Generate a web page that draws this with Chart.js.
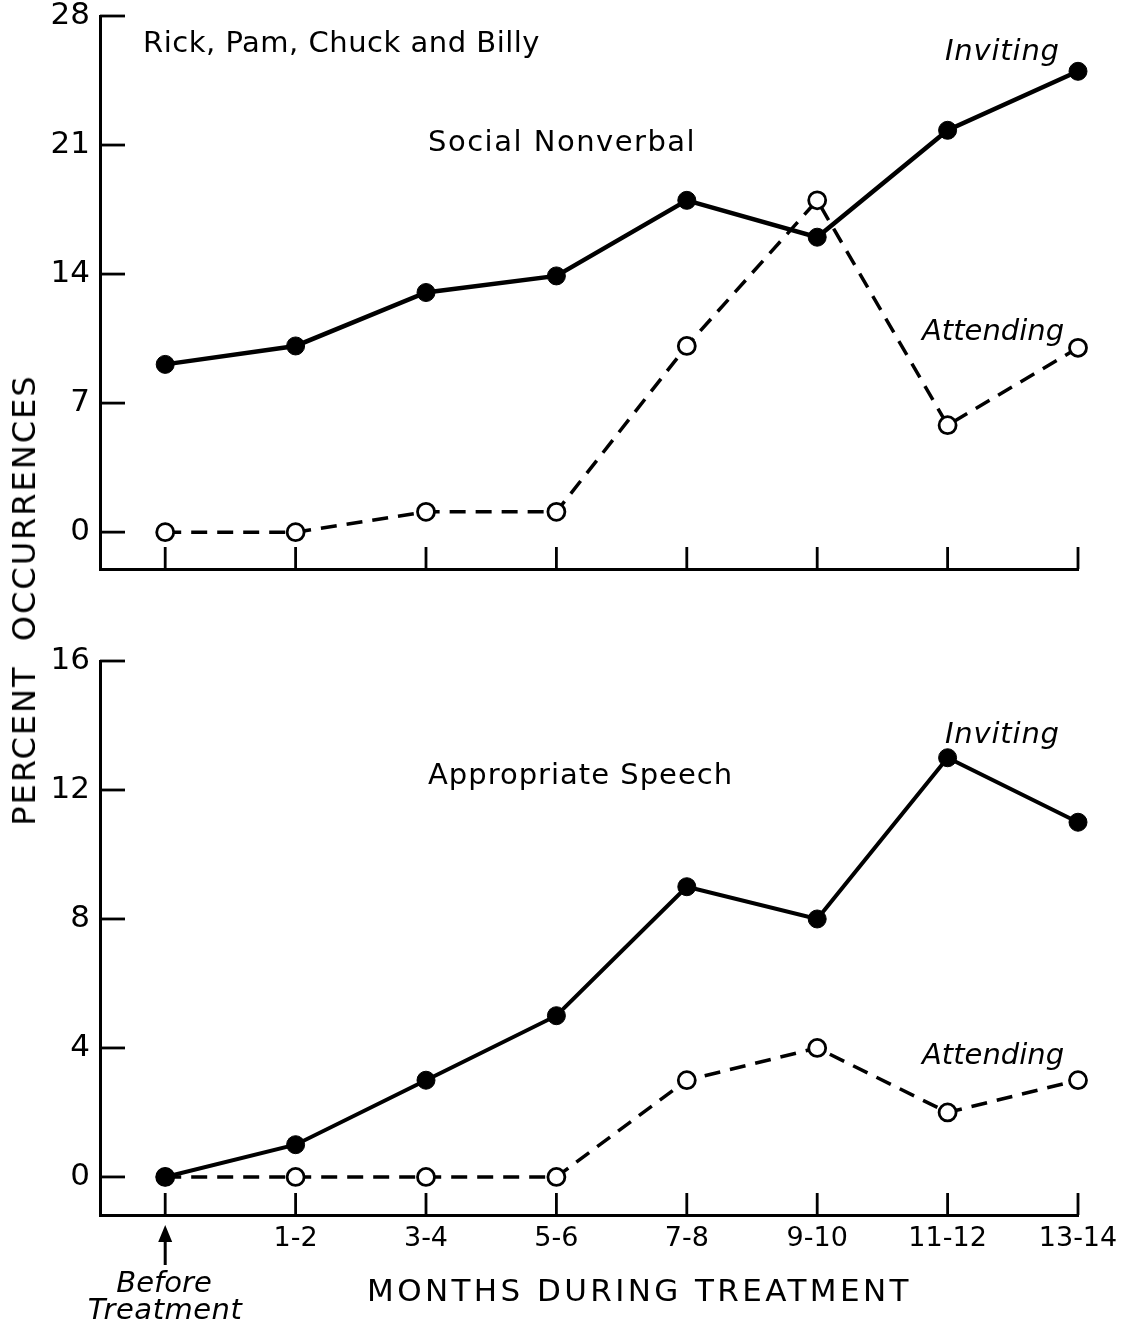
<!DOCTYPE html>
<html>
<head>
<meta charset="utf-8">
<script src="https://cdn.jsdelivr.net/npm/chart.js@4.4.1/dist/chart.umd.min.js"></script>
<style>
  body { margin: 0; background: #fff; }
  #page { position: relative; width: 1136px; height: 1326px; overflow: hidden; font-family: "DejaVu Sans", sans-serif; color: #000; }
  .box { position: absolute; left: 0; width: 1136px; }
  .txt { position: absolute; white-space: nowrap; line-height: 1; }
  .it { font-style: italic; }
</style>
</head>
<body>
<div id="page">
  <div class="box" style="top:0;height:600px"><canvas id="topChart"></canvas></div>
  <div class="box" style="top:600px;height:726px"><canvas id="bottomChart"></canvas></div>

  <div class="txt" style="left:143px;top:28px;font-size:29px;letter-spacing:0.5px">Rick, Pam, Chuck and Billy</div>
  <div class="txt" style="left:428px;top:127px;font-size:29px;letter-spacing:1.5px">Social Nonverbal</div>
  <div class="txt it" style="left:945px;top:36px;font-size:29px;letter-spacing:0.8px">Inviting</div>
  <div class="txt it" style="left:922px;top:316px;font-size:29px;letter-spacing:0px">Attending</div>

  <div class="txt it" style="left:945px;top:719px;font-size:29px;letter-spacing:0.8px">Inviting</div>
  <div class="txt" style="left:428px;top:760px;font-size:29px;letter-spacing:1px">Appropriate Speech</div>
  <div class="txt it" style="left:922px;top:1040px;font-size:29px;letter-spacing:0px">Attending</div>

  <div class="txt it" style="left:164px;top:1268px;font-size:29px;transform:translateX(-50%)">Before</div>
  <div class="txt it" style="left:165px;top:1295px;font-size:29px;transform:translateX(-50%);letter-spacing:0.5px">Treatment</div>
  <div class="txt" style="left:367px;top:1275px;font-size:31px;letter-spacing:3.4px">MONTHS DURING TREATMENT</div>

  <div class="txt" style="left:24px;top:600px;font-size:32px;letter-spacing:2px;transform:translate(-50%,-50%) rotate(-90deg)">PERCENT&nbsp; OCCURRENCES</div>
</div>

<script>
// categories and values
const months = ['Before Treatment', '1-2', '3-4', '5-6', '7-8', '9-10', '11-12', '13-14'];

const nonverbalInviting = [9.1, 10.1, 13.0, 13.9, 18.0, 16.0, 21.8, 25.0];
const nonverbalAttending = [0, 0, 1.1, 1.1, 10.1, 18.0, 5.8, 10.0];

const speechInviting = [0, 1, 3, 5, 9, 8, 13, 11];
const speechAttending = [0, 0, 0, 0, 3, 4, 2, 3];

const nonverbalTicks = [0, 7, 14, 21, 28];
const speechTicks = [0, 4, 8, 12, 16];

const FONT = '"DejaVu Sans", sans-serif';

function points(values) {
    return values.map((v, i) => ({ x: i, y: v }));
}

function invitingSet(values, lw) {
    return {
        label: 'Inviting',
        data: points(values),
        clip: 20,
        borderColor: '#000',
        backgroundColor: '#000',
        borderWidth: lw,
        pointRadius: 9,
        pointBorderWidth: 1,
        pointBackgroundColor: '#000',
        pointBorderColor: '#000',
        tension: 0
    };
}

function attendingSet(values) {
    return {
        label: 'Attending',
        data: points(values),
        clip: 20,
        borderColor: '#000',
        borderWidth: 3.5,
        borderDash: [16, 10],
        pointRadius: 8.5,
        pointBorderWidth: 2.8,
        pointBackgroundColor: '#fff',
        pointBorderColor: '#000',
        tension: 0
    };
}

// ticks drawn inwards from the axes, like the original
const innerTicks = {
    id: 'innerTicks',
    afterDatasetsDraw(chart, args, opts) {
        const { ctx, chartArea, scales } = chart;
        ctx.save();
        ctx.strokeStyle = '#000';
        ctx.lineWidth = 2.8;
        ctx.setLineDash([]);
        scales.y.ticks.forEach(t => {
            const y = scales.y.getPixelForValue(t.value);
            ctx.beginPath();
            ctx.moveTo(chartArea.left, y);
            ctx.lineTo(chartArea.left + 25, y);
            ctx.stroke();
        });
        months.forEach((m, i) => {
            const x = scales.x.getPixelForValue(i);
            ctx.beginPath();
            ctx.moveTo(x, chartArea.bottom);
            ctx.lineTo(x, chartArea.bottom - 22);
            ctx.stroke();
        });
        // arrow pointing at "Before Treatment"
        if (opts.arrow) {
            const x = scales.x.getPixelForValue(0);
            const y0 = chartArea.bottom + 10;
            ctx.lineWidth = 3;
            ctx.beginPath();
            ctx.moveTo(x, y0 + 10);
            ctx.lineTo(x, y0 + 40);
            ctx.stroke();
            ctx.fillStyle = '#000';
            ctx.beginPath();
            ctx.moveTo(x, y0);
            ctx.lineTo(x - 7, y0 + 17);
            ctx.lineTo(x + 7, y0 + 17);
            ctx.closePath();
            ctx.fill();
        }
        ctx.restore();
    }
};

function makeChart(id, sets, yMin, yMax, yTicks, opt) {
    const ctx = document.getElementById(id).getContext('2d');
    return new Chart(ctx, {
        type: 'line',
        data: { datasets: sets },
        options: {
            responsive: true,
            maintainAspectRatio: false,
            animation: false,
            layout: { padding: { top: opt.padTop, right: 58, left: 0, bottom: 0 } },
            plugins: {
                legend: { display: false },
                tooltip: { enabled: false },
                innerTicks: { arrow: opt.arrow }
            },
            scales: {
                x: {
                    type: 'linear',
                    min: -0.5,
                    max: months.length - 1,
                    afterBuildTicks: (scale) => {
                        scale.ticks = months.map((m, i) => ({ value: i }));
                    },
                    afterFit: (scale) => { scale.height = opt.xHeight; },
                    grid: { display: false, drawTicks: false },
                    border: { display: true, color: '#000', width: 3 },
                    ticks: {
                        display: opt.xLabels,
                        autoSkip: false,
                        maxRotation: 0,
                        padding: 8,
                        color: '#000',
                        font: { family: FONT, size: 27 },
                        callback: (v) => v === 0 ? '' : months[v]
                    }
                },
                y: {
                    min: yMin,
                    max: yMax,
                    afterBuildTicks: (scale) => {
                        scale.ticks = yTicks.map(v => ({ value: v }));
                    },
                    afterFit: (scale) => { scale.width = 100; },
                    grid: { display: false, drawTicks: false },
                    border: { display: true, color: '#000', width: 3 },
                    ticks: {
                        padding: 10,
                        color: '#000',
                        font: { family: FONT, size: 31, lineHeight: 0.3 }
                    }
                }
            }
        },
        plugins: [innerTicks]
    });
}

makeChart('topChart',
    [invitingSet(nonverbalInviting, 4.5), attendingSet(nonverbalAttending)],
    -2, 28, nonverbalTicks,
    { padTop: 16, xHeight: 31, xLabels: false, arrow: false });

makeChart('bottomChart',
    [invitingSet(speechInviting, 4), attendingSet(speechAttending)],
    -1.18, 16, speechTicks,
    { padTop: 61, xHeight: 111, xLabels: true, arrow: true });
</script>
</body>
</html>
